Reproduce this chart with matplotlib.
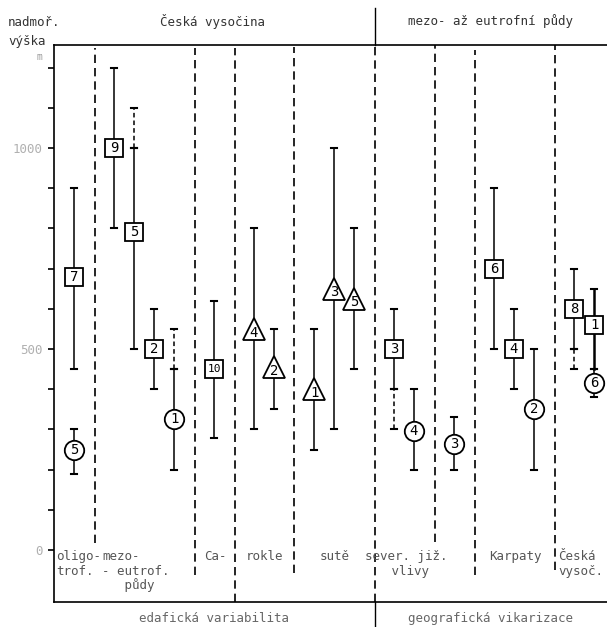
import numpy as np
import matplotlib.pyplot as plt

plt.rc('font', family='DejaVu Sans Mono', size=9)

# each taxon: slot on x, marker shape, number, solid range, dashed range, marker value
slots   = [1, 1, 3, 4, 5, 6, 8, 10, 11, 13, 14, 15, 17, 18, 20, 22, 23, 24, 26, 27, 27]
shapes  = ['s', 'o', 's', 's', 's', 'o', 's', '^', '^', '^', '^', '^',
           's', 'o', 'o', 's', 's', 'o', 's', 's', 'o']
numbers = ['7', '5', '9', '5', '2', '1', '10', '4', '2', '1', '3', '5',
           '3', '4', '3', '6', '4', '2', '8', '1', '6']
lows    = [450, 190, 800, 500, 400, 200, 280, 300, 350, 250, 300, 450,
           400, 200, 200, 500, 400, 200, 500, 450, 380]
highs   = [900, 300, 1200, 1000, 600, 450, 620, 800, 550, 550, 1000, 800,
           600, 400, 330, 900, 600, 500, 700, 650, 450]
mids    = [680, 250, 1000, 790, 500, 325, 450, 550, 455, 400, 650, 625,
           500, 295, 265, 700, 500, 350, 600, 560, 415]
# dashed (uncertain) extensions: (index, from, to)
dashed  = [(3, 1000, 1100), (5, 450, 550), (12, 300, 400), (18, 450, 500)]

# vertical separators: x, from, to
sep_x   = [2.05, 7.05, 9.05, 12, 16.05, 19.05, 21.05, 25.05]
sep_lo  = [17, -62, -129, -57, -129, 20, -62, -50]
sep_hi  = [1249, 1249, 1249, 1251, 1256, 1256, 1244, 1256]

cat_labels = [
    (0.1, ['oligo-', 'trof.'], 'left'),
    (2.4, ['mezo-', '- eutrof.', '   půdy'], 'left'),
    (8.05, ['Ca-'], 'center'),
    (10.55, ['rokle'], 'center'),
    (14.05, ['sutě'], 'center'),
    (17.6, ['sever. již.', ' vlivy'], 'center'),
    (23.05, ['Karpaty'], 'center'),
    (25.2, ['Česká', 'vysoč.'], 'left'),
]

yticks = np.arange(0, 1300, 100)

fig = plt.figure(figsize=(6.07, 6.27), dpi=100)
ax = fig.add_axes([54/607, 25/627, 553/607, 557/627])
ax.set_xlim(0, 27.65)
ax.set_ylim(-129, 1256)

ax.spines['right'].set_visible(False)
for sp in ['left', 'top', 'bottom']:
    ax.spines[sp].set_linewidth(1.2)
ax.set_xticks([])
ax.set_yticks(yticks)
ax.set_yticklabels(['0' if v == 0 else '500' if v == 500 else '1000' if v == 1000
                    else '' for v in yticks], color='#b0b0b0')
ax.tick_params(axis='y', length=4, width=1.2, pad=4)
ax.text(-0.6, 1225, 'm', ha='right', va='center', fontsize=7, color='#999999')

for x, lo, hi in zip(sep_x, sep_lo, sep_hi):
    ax.plot([x, x], [lo, hi], color='black', lw=1.2, ls=(0, (5, 3)), clip_on=False)

# solid separator outside the frame
ax.plot([16.05, 16.05], [1256, 1348], color='black', lw=1, clip_on=False)
ax.plot([16.05, 16.05], [-129, -191], color='black', lw=1, clip_on=False)

cap = 0.17
for i in range(len(slots)):
    x = slots[i]
    lw = 1.8 if i == 19 else 1.1
    ax.plot([x, x], [lows[i], highs[i]], color='black', lw=lw, zorder=2)
    ax.plot([x - cap, x + cap], [lows[i], lows[i]], color='black', lw=1.5, zorder=2)
    ax.plot([x - cap, x + cap], [highs[i], highs[i]], color='black', lw=1.5, zorder=2)
for i, a, b in dashed:
    x = slots[i]
    ax.plot([x, x], [a, b], color='black', lw=1.1, ls=(0, (3, 2)), zorder=2)
    ax.plot([x - cap, x + cap], [b, b], color='black', lw=1.5, zorder=2)
    ax.plot([x - cap, x + cap], [a, a], color='black', lw=1.5, zorder=2)

for i in range(len(slots)):
    size = {'s': 13, 'o': 14, '^': 16}[shapes[i]]
    ax.plot(slots[i], mids[i], marker=shapes[i], ms=size, mfc='white',
            mec='black', mew=1.3, zorder=3)
    dy = -9 if shapes[i] == '^' else 0
    ax.text(slots[i], mids[i] + dy, numbers[i], ha='center', va='center',
            fontsize=10 if len(numbers[i]) == 1 else 8, zorder=4)

for x, lines, ha in cat_labels:
    for k, t in enumerate(lines):
        ax.text(x, -17 - 35 * k, t, ha=ha, va='center', color='#555555')

ax.text(7.9, 1315, 'Česká vysočina', ha='center', va='center', color='#333333')
ax.text(21.8, 1315, 'mezo- až eutrofní půdy', ha='center', va='center', color='#333333')
ax.text(8.0, -170, 'edafická variabilita', ha='center', va='center', color='#666666')
ax.text(21.8, -170, 'geografická vikarizace', ha='center', va='center', color='#666666')
fig.text(8/607, 1 - 22/627, 'nadmoř.', ha='left', va='center', color='#333333')
fig.text(8/607, 1 - 42/627, 'výška', ha='left', va='center', color='#333333')

fig.savefig('out.png', dpi=100)
